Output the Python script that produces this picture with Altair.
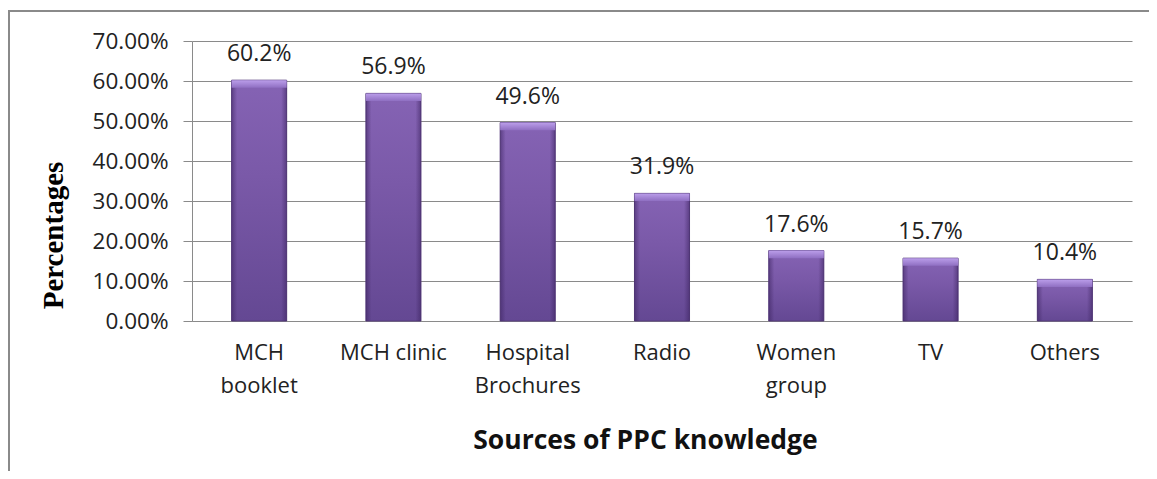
import altair as alt
import pandas as pd

categories = ["MCH\nbooklet", "MCH clinic", "Hospital\nBrochures", "Radio", "Women\ngroup", "TV", "Others"]
values = [0.602, 0.569, 0.496, 0.319, 0.176, 0.157, 0.104]
labels = ["60.2%", "56.9%", "49.6%", "31.9%", "17.6%", "15.7%", "10.4%"]
y_ticks = [0.0, 0.1, 0.2, 0.3, 0.4, 0.5, 0.6, 0.7]

df = pd.DataFrame({"source": categories, "pct": values, "label": labels})

FONT = "Open Sans"
TXT = "#222222"
GRID = "#8a8a8a"

x_enc = alt.X(
    "source:N",
    sort=categories,
    scale=alt.Scale(paddingInner=0.59, paddingOuter=0.295),
    axis=alt.Axis(
        title="Sources of PPC knowledge",
        labelExpr="split(datum.label, '\\n')",
        labelAngle=0,
        labelFont=FONT,
        labelFontSize=22,
        labelColor=TXT,
        labelPadding=21,
        labelLineHeight=33,
        labelBaseline="top",
        labelOverlap=False,
        ticks=False,
        domainColor=GRID,
        domainWidth=1,
        titleFont=FONT,
        titleFontSize=26.5,
        titleFontWeight="bold",
        titleColor="#111111",
        titleBaseline="alphabetic",
        titleX=453,
        titleY=127,
    ),
)

y_enc = alt.Y(
    "pct:Q",
    scale=alt.Scale(domain=[0, 0.7], nice=False),
    axis=alt.Axis(
        title="Percentages",
        values=y_ticks,
        format=".2%",
        labelFont=FONT,
        labelFontSize=22.5,
        labelColor=TXT,
        labelPadding=15,
        labelOverlap=False,
        labelBound=False,
        tickSize=9,
        tickColor=GRID,
        domainColor=GRID,
        gridColor=GRID,
        gridWidth=1,
        grid=True,
        titleFont="Liberation Serif",
        titleFontSize=29,
        titleFontWeight="bold",
        titleColor="#000000",
        titleBaseline="alphabetic",
        titleAlign="center",
        titleAngle=270,
        titleX=-130,
        titleY=194,
    ),
)

bar_fill = alt.Gradient(
    gradient="linear",
    stops=[
        alt.GradientStop(color="#8563b4", offset=0),
        alt.GradientStop(color="#7a59a8", offset=0.4),
        alt.GradientStop(color="#644893", offset=1),
    ],
    x1=0, x2=0, y1=0, y2=1,
)

side_fill = alt.Gradient(
    gradient="linear",
    stops=[
        alt.GradientStop(color="rgba(60,35,95,0.55)", offset=0),
        alt.GradientStop(color="rgba(60,35,95,0)", offset=0.1),
        alt.GradientStop(color="rgba(60,35,95,0)", offset=0.9),
        alt.GradientStop(color="rgba(60,35,95,0.55)", offset=1),
    ],
    x1=0, x2=1, y1=0, y2=0,
)

bevel_fill = alt.Gradient(
    gradient="linear",
    stops=[
        alt.GradientStop(color="#bb9eea", offset=0),
        alt.GradientStop(color="#8f6fc2", offset=1),
    ],
    x1=0, x2=0, y1=0, y2=1,
)

base = alt.Chart(df)

bars = base.mark_bar(fill=bar_fill, stroke="#563c7c", strokeWidth=1).encode(x=x_enc, y=y_enc)
sides = base.mark_bar(fill=side_fill).encode(x=x_enc, y=y_enc)
bevel = base.transform_calculate(top2="datum.pct - 0.019").mark_bar(fill=bevel_fill).encode(
    x=x_enc, y=y_enc, y2="top2:Q"
)

text = base.mark_text(
    font=FONT, fontSize=23, color=TXT, baseline="alphabetic", dy=-19
).encode(x=x_enc, y=y_enc, text="label:N")

frame = alt.Chart(pd.DataFrame({"a": [0]})).mark_rect(
    fill="transparent", stroke="#8a8a8a", strokeWidth=2
).encode(
    x=alt.value(-183), x2=alt.value(1400), y=alt.value(-30), y2=alt.value(700)
)

chart = alt.layer(bars, sides, bevel, text, frame).properties(
    width=940,
    height=280,
    autosize=alt.AutoSizeParams(type="none"),
    padding={"left": 184, "top": 33, "right": 17, "bottom": 150},
    background="white",
).configure_view(strokeWidth=0)

chart.save("out.html", embed_options={"renderer": "svg", "actions": False})
